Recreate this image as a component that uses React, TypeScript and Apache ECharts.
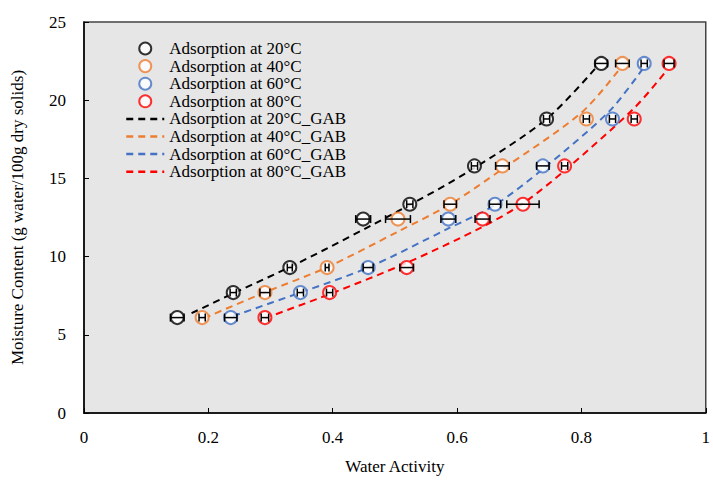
import React, { useEffect, useRef } from "react";
import * as echarts from "echarts";

const moisture = [6.1, 7.7, 9.3, 12.4, 13.35, 15.8, 18.8, 22.35];
const aw20 = [0.15, 0.24, 0.331, 0.449, 0.524, 0.628, 0.744, 0.832];
const aw40 = [0.19, 0.291, 0.391, 0.505, 0.589, 0.673, 0.808, 0.866];
const aw60 = [0.236, 0.348, 0.457, 0.586, 0.661, 0.738, 0.85, 0.901];
const aw80 = [0.291, 0.395, 0.519, 0.641, 0.706, 0.773, 0.885, 0.941];
const err20 = [0.011, 0.005, 0.004, 0.012, 0.005, 0.005, 0.005, 0.01];
const err40 = [0.005, 0.008, 0.003, 0.02, 0.01, 0.011, 0.005, 0.011];
const err60 = [0.01, 0.005, 0.008, 0.012, 0.009, 0.01, 0.005, 0.005];
const err80 = [0.006, 0.005, 0.011, 0.012, 0.026, 0.005, 0.005, 0.008];

const gab20 = [[0.173, 6.38], [0.24, 7.65], [0.345, 9.6], [0.505, 12.9], [0.621, 15.5], [0.744, 18.8], [0.824, 22.1]];
const gab40 = [[0.193, 6.06], [0.29, 7.7], [0.39, 9.3], [0.505, 11.6], [0.589, 13.35], [0.673, 15.6], [0.8, 19.2], [0.861, 21.97]];
const gab60 = [[0.24, 6.2], [0.348, 7.7], [0.457, 9.3], [0.586, 11.8], [0.661, 13.3], [0.738, 15.6], [0.845, 19.3], [0.898, 21.97]];
const gab80 = [[0.291, 6.06], [0.395, 7.6], [0.519, 9.6], [0.641, 11.9], [0.706, 13.4], [0.773, 15.5], [0.885, 19.5], [0.935, 21.8]];

const temps = ["20", "40", "60", "80"];
const colors = ["#000000", "#ED7D31", "#4472C4", "#FF0000"];
const awSets = [aw20, aw40, aw60, aw80];
const errSets = [err20, err40, err60, err80];
const gabSets = [gab20, gab40, gab60, gab80];

const FONT = "Liberation Serif";

export default function App() {
  const ref = useRef<HTMLDivElement>(null);
  useEffect(() => {
    if (!ref.current) return;
    const chart = echarts.init(ref.current, null, { renderer: "svg" });
    const series: any[] = [];
    const legendData: any[] = [];
    temps.forEach((t, i) => {
      const name = `Adsorption at ${t}°C`;
      legendData.push({ name });
      series.push({
        name,
        type: "scatter",
        symbol: "emptyCircle",
        symbolSize: 13,
        itemStyle: { color: colors[i], borderColor: colors[i], borderWidth: 1.5 },
        data: awSets[i].map((a, k) => [a, moisture[k]]),
        z: 3,
      });
    });
    temps.forEach((t, i) => {
      const name = `Adsorption at ${t}°C_GAB`;
      legendData.push({
        name,
        itemStyle: { color: "transparent", borderColor: "transparent", opacity: 0 },
        lineStyle: { color: colors[i], width: 2.5, type: [7, 5] },
      });
      series.push({
        name,
        type: "line",
        symbol: "none",
        smooth: 0.3,
        lineStyle: { color: colors[i], width: 2, type: [7, 5] },
        itemStyle: { color: colors[i] },
        data: gabSets[i],
        z: 2,
      });
    });
    temps.forEach((t, i) => {
      series.push({
        name: `err${t}`,
        type: "custom",
        data: awSets[i].map((a, k) => [a, moisture[k], errSets[i][k]]),
        encode: { x: 0, y: 1 },
        z: 4,
        renderItem: (params: any, api: any) => {
          const x = api.value(0);
          const y = api.value(1);
          const e = api.value(2);
          const lo = api.coord([x - e, y]);
          const hi = api.coord([x + e, y]);
          const cap = 4;
          const st = { stroke: "#000", lineWidth: 1.5 };
          return {
            type: "group",
            children: [
              { type: "line", shape: { x1: lo[0], y1: lo[1], x2: hi[0], y2: hi[1] }, style: st },
              { type: "line", shape: { x1: lo[0], y1: lo[1] - cap, x2: lo[0], y2: lo[1] + cap }, style: st },
              { type: "line", shape: { x1: hi[0], y1: hi[1] - cap, x2: hi[0], y2: hi[1] + cap }, style: st },
            ],
          };
        },
      });
    });

    chart.setOption({
      animation: false,
      backgroundColor: "#ffffff",
      textStyle: { fontFamily: FONT },
      grid: {
        left: 84,
        right: 2,
        top: 22,
        bottom: 62,
        show: true,
        backgroundColor: "#e6e6e6",
        borderColor: "#444",
        borderWidth: 1.5,
      },
      legend: {
        orient: "vertical",
        left: 120,
        top: 35,
        itemWidth: 38,
        itemHeight: 12,
        itemGap: 0.6,
        data: legendData,
        textStyle: { fontFamily: FONT, fontSize: 17, color: "#000", lineHeight: 17, padding: [0, 0, 0, 0] },
      },
      xAxis: {
        type: "value",
        min: 0,
        max: 1,
        interval: 0.2,
        name: "Water Activity",
        nameLocation: "middle",
        nameGap: 45,
        nameTextStyle: { fontFamily: FONT, fontSize: 17, color: "#000" },
        axisLine: { show: true, lineStyle: { color: "#000", width: 1.5 } },
        axisTick: { show: true, inside: true, length: 5, lineStyle: { color: "#000" } },
        axisLabel: { fontFamily: FONT, fontSize: 17, color: "#000", margin: 16 },
        splitLine: { show: false },
      },
      yAxis: {
        type: "value",
        min: 0,
        max: 25,
        interval: 5,
        name: "Moisture Content (g water/100g dry solids)",
        nameLocation: "middle",
        nameGap: 58,
        nameTextStyle: { fontFamily: FONT, fontSize: 17, color: "#000" },
        axisLine: { show: true, lineStyle: { color: "#000", width: 1.5 } },
        axisTick: { show: true, inside: true, length: 5, lineStyle: { color: "#000" } },
        axisLabel: { fontFamily: FONT, fontSize: 17, color: "#000", margin: 18 },
        splitLine: { show: false },
      },
      series,
    });
    return () => chart.dispose();
  }, []);
  return <div ref={ref} style={{ position: "fixed", left: 0, top: 0, width: 713, height: 480 }} />;
}
